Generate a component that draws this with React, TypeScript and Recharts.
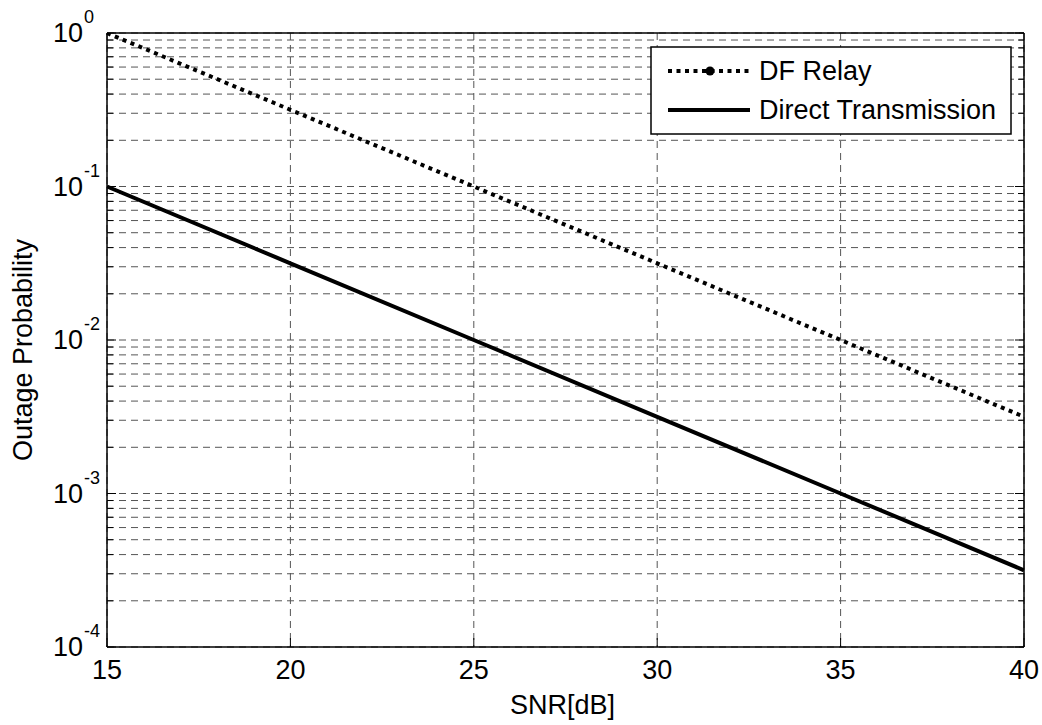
import React from 'react';
import { LineChart, Line, XAxis, YAxis, CartesianGrid, Legend } from 'recharts';

// SNR (dB) and outage probabilities
const snrDb = [15, 20, 25, 30, 35, 40];
const dfRelay = [1, 0.316, 0.1, 0.0316, 0.01, 0.00316];
const directTransmission = [0.1, 0.0316, 0.01, 0.00316, 0.001, 0.000316];

// axis ticks
const xTicks = [15, 20, 25, 30, 35, 40];
const yDecades = [1e-4, 1e-3, 1e-2, 1e-1, 1];
const yMinorSteps = [2, 3, 4, 5, 6, 7, 8, 9];

const yTicks: number[] = [];
yDecades.forEach((d, i) => {
  yTicks.push(d);
  if (i < yDecades.length - 1) yMinorSteps.forEach((m) => yTicks.push(m * d));
});

const data = snrDb.map((snr, i) => ({ snr, df: dfRelay[i], direct: directTransmission[i] }));

const FONT = '"Liberation Sans", Arial, Helvetica, sans-serif';
const FS = 27;

const isMajor = (v: number) => yDecades.some((d) => Math.abs(v / d - 1) < 1e-9);

const LeftTick = (props: any) => {
  const { x, y, payload } = props;
  const v = payload.value;
  const major = isMajor(v);
  const exp = Math.round(Math.log10(v));
  return (
    <g>
      <line x1={x} x2={x + (major ? 9 : 6)} y1={y} y2={y} stroke="#000" strokeWidth={1} />
      {major && (
        <>
          <text x={x - 24} y={y + 9} textAnchor="end" fontSize={FS} fontFamily={FONT} fill="#000">10</text>
          <text x={x - 23} y={y - 10} textAnchor="start" fontSize={18} fontFamily={FONT} fill="#000">{exp}</text>
        </>
      )}
    </g>
  );
};

const RightTick = (props: any) => {
  const { x, y, payload } = props;
  const major = isMajor(payload.value);
  return <line x1={x} x2={x - (major ? 9 : 6)} y1={y} y2={y} stroke="#000" strokeWidth={1} />;
};

const BottomTick = (props: any) => {
  const { x, y, payload } = props;
  return (
    <g>
      <line x1={x} x2={x} y1={y} y2={y - 9} stroke="#000" strokeWidth={1} />
      <text x={x} y={y + 32} textAnchor="middle" fontSize={FS} fontFamily={FONT} fill="#000">
        {payload.value}
      </text>
    </g>
  );
};

const TopTick = (props: any) => {
  const { x, y } = props;
  return <line x1={x} x2={x} y1={y} y2={y + 9} stroke="#000" strokeWidth={1} />;
};

const XLabel = (props: any) => {
  const vb = props.viewBox;
  return (
    <text x={vb.x + vb.width / 2 - 3} y={vb.y + 67} textAnchor="middle" fontSize={FS} fontFamily={FONT} fill="#000">
      SNR[dB]
    </text>
  );
};

const YLabel = (props: any) => {
  const vb = props.viewBox;
  return (
    <text
      transform={`translate(${vb.x + 32}, ${vb.y + vb.height / 2 + 10}) rotate(-90)`}
      textAnchor="middle"
      fontSize={FS}
      fontFamily={FONT}
      fill="#000"
    >
      Outage Probability
    </text>
  );
};

const LegendBox = () => (
  <svg width={362} height={89} style={{ display: 'block' }}>
    <rect x={1} y={1} width={360} height={87} fill="#fff" stroke="#000" strokeWidth={1.5} />
    <line x1={18} x2={100} y1={25} y2={25} stroke="#000" strokeWidth={4} strokeDasharray="4 4.5" />
    <circle cx={60} cy={25} r={4.5} fill="#000" />
    <text x={109} y={34} fontSize={FS} fontFamily={FONT} fill="#000">DF Relay</text>
    <line x1={18} x2={100} y1={64} y2={64} stroke="#000" strokeWidth={4} />
    <text x={109} y={73} fontSize={FS} fontFamily={FONT} fill="#000">Direct Transmission</text>
  </svg>
);

const App = () => {
  return (
    <div style={{ position: 'absolute', left: 0, top: 0, width: 1042, height: 725, background: '#fff', fontFamily: FONT }}>
      <LineChart width={1042} height={725} data={data} margin={{ top: 32, right: 17, bottom: 18, left: 0 }}>
        <CartesianGrid stroke="#555" strokeDasharray="7 5" strokeWidth={1} />
        <XAxis
          dataKey="snr"
          type="number"
          domain={[15, 40]}
          ticks={xTicks}
          interval={0}
          height={60}
          tickSize={0}
          tickMargin={0}
          tick={<BottomTick />}
          axisLine={{ stroke: '#000', strokeWidth: 1.5 }}
          label={XLabel}
        />
        <XAxis
          xAxisId="top"
          orientation="top"
          type="number"
          domain={[15, 40]}
          ticks={xTicks}
          interval={0}
          height={1}
          tickSize={0}
          tickMargin={0}
          tick={<TopTick />}
          axisLine={{ stroke: '#000', strokeWidth: 1.5 }}
        />
        <YAxis
          type="number"
          scale="log"
          domain={[1e-4, 1]}
          allowDataOverflow
          ticks={yTicks}
          interval={0}
          width={107}
          tickSize={0}
          tickMargin={0}
          tick={<LeftTick />}
          axisLine={{ stroke: '#000', strokeWidth: 1.5 }}
          label={YLabel}
        />
        <YAxis
          yAxisId="right"
          orientation="right"
          type="number"
          scale="log"
          domain={[1e-4, 1]}
          allowDataOverflow
          ticks={yTicks}
          interval={0}
          width={1}
          tickSize={0}
          tickMargin={0}
          tick={<RightTick />}
          axisLine={{ stroke: '#000', strokeWidth: 1.5 }}
        />
        <Legend
          verticalAlign="middle"
          align="center"
          layout="horizontal"
          content={() => <LegendBox />}
          wrapperStyle={{ left: 650, top: 46, width: 362, height: 89 }}
        />
        <Line
          type="linear"
          dataKey="df"
          name="DF Relay"
          stroke="#000"
          strokeWidth={4}
          strokeDasharray="4 4.5"
          dot={false}
          isAnimationActive={false}
        />
        <Line
          type="linear"
          dataKey="direct"
          name="Direct Transmission"
          stroke="#000"
          strokeWidth={4}
          dot={false}
          isAnimationActive={false}
        />
      </LineChart>
    </div>
  );
};

export default App;
